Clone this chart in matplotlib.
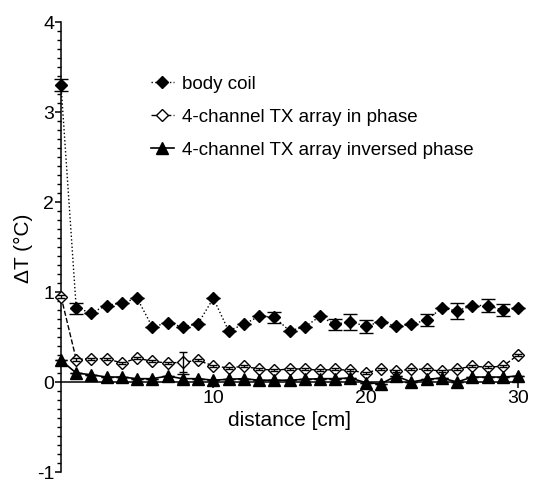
import numpy as np
import matplotlib
matplotlib.use("Agg")
import matplotlib.pyplot as plt
from matplotlib.lines import Line2D

plt.rcParams['font.family'] = ['Liberation Sans', 'DejaVu Sans']
plt.rcParams['axes.unicode_minus'] = False

# distance along the axis [cm]
distance = np.arange(0, 31)

# body coil
body = [3.30, 0.82, 0.77, 0.85, 0.88, 0.93, 0.61, 0.66, 0.61, 0.65,
        0.93, 0.57, 0.64, 0.73, 0.72, 0.57, 0.61, 0.73, 0.64, 0.67,
        0.62, 0.67, 0.62, 0.64, 0.69, 0.82, 0.79, 0.85, 0.85, 0.80, 0.82]
body_err = [0.065, 0.06, 0, 0, 0, 0, 0, 0, 0, 0,
            0, 0, 0, 0, 0.06, 0, 0, 0, 0.06, 0.09,
            0.07, 0, 0, 0, 0.07, 0, 0.09, 0, 0.07, 0.07, 0]

# 4-channel TX array in phase
inphase = [0.95, 0.25, 0.26, 0.26, 0.21, 0.265, 0.23, 0.21, 0.22, 0.24,
           0.18, 0.155, 0.175, 0.145, 0.13, 0.145, 0.145, 0.13, 0.14, 0.13,
           0.10, 0.145, 0.12, 0.145, 0.14, 0.12, 0.145, 0.175, 0.165, 0.175, 0.30]
inphase_err = [0.012] * 8 + [0.11] + [0.012] * 22

# 4-channel TX array inversed phase
inversed = [0.24, 0.10, 0.08, 0.055, 0.055, 0.037, 0.037, 0.066, 0.037, 0.037,
            0.02, 0.03, 0.037, 0.02, 0.02, 0.02, 0.03, 0.037, 0.037, 0.044,
            -0.007, -0.02, 0.066, 0.0, 0.03, 0.044, 0.0, 0.055, 0.055, 0.055, 0.066]
inversed_err = [0] * 8 + [0.05] + [0] * 22

fig = plt.figure(figsize=(5.36, 4.85), dpi=100)
ax = fig.add_axes([61/536, 12/485, 457/536, 450/485])

ax.errorbar(distance, body, yerr=body_err, fmt='D', linestyle=':', color='black',
            lw=1.0, ms=6.5, elinewidth=1.0, capsize=5, capthick=1.0,
            clip_on=False, zorder=3)
ax.errorbar(distance, inphase, yerr=inphase_err, fmt='D', linestyle='--', color='black',
            mfc='white', mec='black', mew=1.0, lw=1.0, ms=6.5, elinewidth=1.0,
            capsize=3, capthick=1.0, barsabove=True, clip_on=False, zorder=4)
ax.errorbar(distance, inversed, yerr=inversed_err, fmt='^', linestyle='-', color='black',
            lw=1.2, ms=8, elinewidth=1.0, capsize=4, capthick=1.0,
            clip_on=False, zorder=5)

ax.set_xlim(0, 30)
ax.set_ylim(-1, 4)
ax.spines['top'].set_visible(False)
ax.spines['right'].set_visible(False)
ax.spines['bottom'].set_position(('data', 0))
ax.spines['left'].set_linewidth(1.1)
ax.spines['bottom'].set_linewidth(1.1)

ax.set_xticks([10, 20, 30])
ax.set_yticks([-1, 0, 1, 2, 3, 4])
ax.set_yticks(np.arange(-1, 4.01, 0.1), minor=True)
ax.tick_params(axis='both', which='major', direction='out', length=4, width=1.1,
               labelsize=14, pad=1)
ax.tick_params(axis='y', which='minor', direction='out', length=3, width=1.0)

ax.set_xlabel('distance [cm]', fontsize=15, labelpad=3)
ax.set_ylabel('ΔT (°C)', fontsize=15)
ax.yaxis.set_label_coords(-0.062, 0.5)

handles = [
    Line2D([], [], color='black', linestyle=':', lw=1.0, marker='D', ms=6.5),
    Line2D([], [], color='black', linestyle='--', lw=1.0, marker='D', ms=6.5,
           mfc='white', mec='black'),
    Line2D([], [], color='black', linestyle='-', lw=1.2, marker='^', ms=8),
]
labels = ['body coil', '4-channel TX array in phase', '4-channel TX array inversed phase']
ax.legend(handles, labels, loc='upper left', bbox_to_anchor=(151/536, 1 - 76/485),
          bbox_transform=fig.transFigure, frameon=False, fontsize=13.5,
          handlelength=1.2, handletextpad=0.45, labelspacing=0.85,
          borderpad=0, borderaxespad=0, numpoints=1)

fig.savefig('out.png', dpi=100)
